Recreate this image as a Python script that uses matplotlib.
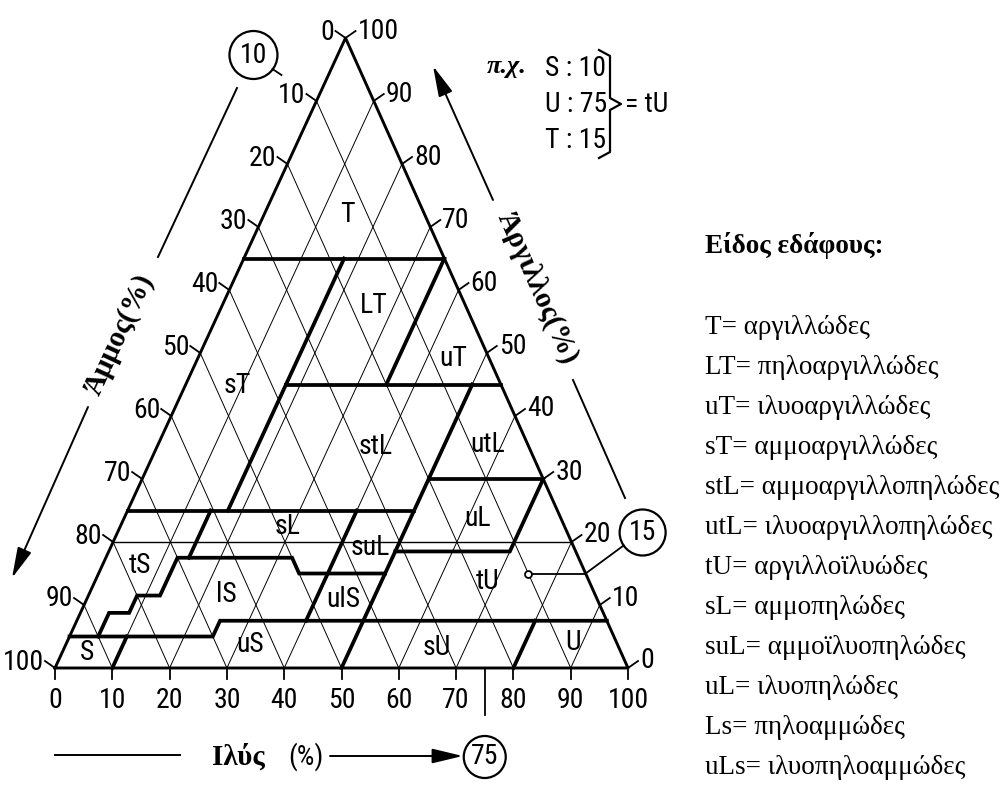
import os
import glob
import numpy as np
import matplotlib
matplotlib.use('Agg')
import matplotlib.pyplot as plt
from matplotlib import font_manager
from matplotlib.font_manager import FontProperties
from matplotlib.patches import Ellipse

# ---- data: soil texture triangle (silt %, clay %) ----
ticks = list(range(0, 101, 10))
grid_levels = list(range(10, 100, 10))

border_clay65 = [(0, 65), (35, 65)]
border_silt17 = [(17.5, 65), (17.5, 25)]
border_silt35 = [(35, 65), (35, 45)]
border_clay45 = [(17.5, 45), (55, 45)]
border_clay25 = [(0, 25), (50, 25)]
border_silt50 = [(50, 45), (50, 0)]
border_clay30 = [(50, 30), (70, 30)]
border_uL = [(70, 30), (70, 18.5), (50, 18.5)]
border_tS = [(14.5, 25), (14.5, 17.5)]
border_lS = [(5, 5), (5, 8.75), (8.5, 8.75), (8.5, 11.5), (12.5, 11.5),
             (12.5, 17.5), (32.5, 17.5), (35, 15), (50, 15)]
border_silt40 = [(40, 25), (40, 7.5)]
border_low = [(0, 5), (25, 5), (25, 7.5), (92.5, 7.5)]
border_S = [(10, 0), (10, 5)]
border_U = [(80, 0), (80, 7.5)]
guide_clay20 = [(0, 20), (80, 20)]

class_names = ['T', 'LT', 'uT', 'sT', 'stL', 'utL', 'uL', 'sL', 'suL',
               'tS', 'lS', 'ulS', 'tU', 'S', 'uS', 'sU', 'U']
class_silt = [14.5, 26.4, 44.5, 9.1, 38.1, 57.5, 61.6, 29.2, 45.3,
              6.6, 24.1, 44.8, 68.5, 4.3, 32.1, 65.0, 88.4]
class_clay = [72.0, 57.6, 49.2, 44.9, 35.1, 35.4, 23.8, 22.4, 19.2,
              16.3, 11.6, 10.8, 13.7, 2.5, 3.7, 3.3, 4.0]

sample_sand, sample_silt, sample_clay = 10, 75, 15
sample_class = 'tU'

legend_codes = ['T', 'LT', 'uT', 'sT', 'stL', 'utL', 'tU', 'sL', 'suL', 'uL', 'Ls', 'uLs']
legend_names = ['αργιλλώδες', 'πηλοαργιλλώδες', 'ιλυοαργιλλώδες', 'αμμοαργιλλώδες',
                'αμμοαργιλλοπηλώδες', 'ιλυοαργιλλοπηλώδες', 'αργιλλοϊλυώδες',
                'αμμοπηλώδες', 'αμμοϊλυοπηλώδες', 'ιλυοπηλώδες', 'πηλοαμμώδες',
                'ιλυοπηλοαμμώδες']


# ---- fonts: a narrow sans for the stencil-like digits ----
def find_narrow():
    files = [f.fname for f in font_manager.fontManager.ttflist]
    files += glob.glob('/usr/share/fonts/**/*.ttf', recursive=True)
    prefs = [('liberationsansnarrow-regular', 20), ('robotocondensed-regular', 20),
             ('notosans-condensed.', 20), ('notosans-condensed-regular', 20),
             ('opensans_condensed-regular', 19), ('opensans-condensed', 19),
             ('dejavusanscondensed.ttf', 18)]
    for key, size in prefs:
        for fn in files:
            base = os.path.basename(fn).lower()
            if base.startswith(key) or base == key:
                if any(w in base for w in ('bold', 'italic', 'oblique', 'light')):
                    continue
                return fn, size
    return None, 16


NARROW_FILE, NUM_SIZE = find_narrow()


def num_font(size=None):
    size = size or NUM_SIZE
    if NARROW_FILE:
        return FontProperties(fname=NARROW_FILE, size=size)
    return FontProperties(family='DejaVu Sans', size=size)


SERIF = 'Liberation Serif'

APEX = 0.507             # x of the 100 % clay corner, as a fraction of the base
PX_X, PX_Y = 5.73, 6.30  # pixels per percent
LEFT_PX, BASE_PX = 55, 668


def tern(silt, clay):
    silt = np.asarray(silt, float)
    clay = np.asarray(clay, float)
    return silt + clay * APEX, clay


def off(p, dx, dy):
    # shift a data point by a pixel offset (dy positive downwards)
    return p[0] + dx / PX_X, p[1] - dy / PX_Y


def at(x, y):
    return (x - LEFT_PX) / PX_X, (BASE_PX - y) / PX_Y


fig = plt.figure(figsize=(10.08, 7.88), dpi=100)
ax = fig.add_axes([0, 0, 1, 1])
ax.set_xlim(-LEFT_PX / PX_X, (1008 - LEFT_PX) / PX_X)
ax.set_ylim(-(788 - BASE_PX) / PX_Y, BASE_PX / PX_Y)
ax.axis('off')

# thin 10 % grid: constant silt and constant sand
for k in grid_levels:
    ax.plot(*tern([k, k], [0, 100 - k]), color='k', lw=0.7)
    ax.plot(*tern([0, 100 - k], [100 - k, 0]), color='k', lw=0.7)

ax.plot(*tern([u for u, t in guide_clay20], [t for u, t in guide_clay20]), color='k', lw=1.0)

ax.plot(*tern([0, 100, 0, 0], [0, 0, 100, 0]), color='k', lw=2.1)

for line in [border_clay65, border_silt17, border_silt35, border_clay45, border_clay25,
             border_silt50, border_clay30, border_uL, border_tS, border_lS,
             border_silt40, border_low, border_S, border_U]:
    ax.plot(*tern([u for u, t in line], [t for u, t in line]), color='k', lw=2.7,
            solid_joinstyle='miter')

# ticks and tick labels
for k in ticks:
    p = tern(0, 100 - k)                      # sand on the left side
    e = off(p, -10, -7)
    ax.plot([p[0], e[0]], [p[1], e[1]], color='k', lw=1.3)
    ax.text(*off(e, -1, 1), str(k), ha='right', va='center', fontproperties=num_font())

    p = tern(100 - k, k)                      # clay on the right side
    e = off(p, 10, -7)
    ax.plot([p[0], e[0]], [p[1], e[1]], color='k', lw=1.3)
    ax.text(*off(e, 2, 0), str(k), ha='left', va='center', fontproperties=num_font())

    p = tern(k, 0)                            # silt along the base
    e = off(p, 0, 11)
    ax.plot([p[0], e[0]], [p[1], e[1]], color='k', lw=1.3)
    ax.text(*off(p, 0, 19), str(k), ha='center', va='top', fontproperties=num_font())

for name, u, t in zip(class_names, class_silt, class_clay):
    ax.text(*tern(u, t), name, ha='center', va='center', fontproperties=num_font())

# worked example: S 10 / U 75 / T 15
sp = tern(sample_silt, sample_clay)
edge15 = tern(100 - sample_clay, sample_clay)
ax.plot([sp[0], edge15[0]], [sp[1], edge15[1]], color='k', lw=1.3)
ax.plot(*sp, 'o', ms=5, mfc='white', mec='k', mew=1.3)


def ring(center, label, r=23):
    ax.add_patch(Ellipse(center, 2 * r / PX_X, 2 * r / PX_Y, fill=False, lw=1.6, color='k'))
    ax.text(*center, label, ha='center', va='center', fontproperties=num_font())


c15 = off(edge15, 57, -41)
ring(c15, str(sample_clay))
a = off(c15, -19, 13)
ax.plot([edge15[0], a[0]], [edge15[1], a[1]], color='k', lw=1.3)

s10 = tern(0, 100 - sample_sand)
c10 = off(s10, -63, -46)
ring(c10, str(sample_sand), r=24)
a, b = off(c10, 19, 14), off(c10, 28, 20)
ax.plot([a[0], b[0]], [a[1], b[1]], color='k', lw=1.3)

u75 = tern(sample_silt, 0)
c75 = off(u75, 0, 89)
ring(c75, str(sample_silt), r=21)
b = off(u75, 0, 47)
ax.plot([u75[0], b[0]], [u75[1], b[1]], color='k', lw=1.3)

# axis titles with arrows
head = dict(arrowstyle='-|>,head_length=1.25,head_width=0.3', mutation_scale=15,
            color='k', lw=1.4, shrinkA=0, shrinkB=0)
title_font = dict(family=SERIF, fontsize=21, fontweight='bold', color='k')

p, q = at(237, 88), at(158, 257)
ax.plot([p[0], q[0]], [p[1], q[1]], color='k', lw=1.4)
ax.annotate('', xy=at(12, 578), xytext=at(88, 407), arrowprops=head)
ax.text(*at(120, 334), 'Άμμος(%)', rotation=65.3, ha='center', va='center',
        rotation_mode='anchor', **title_font)

ax.annotate('', xy=at(433, 66), xytext=at(493, 200), arrowprops=head)
p, q = at(573, 380), at(625, 498)
ax.plot([p[0], q[0]], [p[1], q[1]], color='k', lw=1.4)
ax.text(*at(537, 288), 'Άργιλλος(%)', rotation=-66, ha='center', va='center',
        rotation_mode='anchor', **title_font)

p, q = at(55, 755), at(180, 755)
ax.plot([p[0], q[0]], [p[1], q[1]], color='k', lw=1.4)
ax.text(*at(238, 757), 'Ιλύς', ha='center', va='center', **title_font)
ax.text(*at(306, 757), '(%)', ha='center', va='center', fontproperties=num_font())
ax.annotate('', xy=off(c75, -22, -1), xytext=at(330, 756), arrowprops=head)

# example box
ax.text(*at(507, 67), 'π.χ.', ha='center', va='center', family=SERIF,
        fontsize=19, style='italic', fontweight='bold')
for i, (code, val) in enumerate(zip(['S', 'U', 'T'], [sample_sand, sample_silt, sample_clay])):
    ax.text(*at(545, 68 + 36 * i), f'{code} : {val}', ha='left', va='center',
            fontproperties=num_font())
bx = [599, 610, 610, 621, 610, 610, 599]
by = [50, 56, 98, 104, 110, 152, 158]
pts = [at(x, y) for x, y in zip(bx, by)]
ax.plot([p[0] for p in pts], [p[1] for p in pts], color='k', lw=1.6)
ax.text(*at(625, 104), f'= {sample_class}', ha='left', va='center', fontproperties=num_font())

# legend of class names
ax.text(*at(705, 245), 'Είδος εδάφους:', ha='left', va='center', family=SERIF,
        fontsize=19.5, fontweight='bold')
for i, (code, nm) in enumerate(zip(legend_codes, legend_names)):
    ax.text(*at(705, 327 + 40 * i), f'{code}= {nm}', ha='left', va='center',
            family=SERIF, fontsize=19.5)

fig.savefig('out.png', dpi=100, facecolor='white')
